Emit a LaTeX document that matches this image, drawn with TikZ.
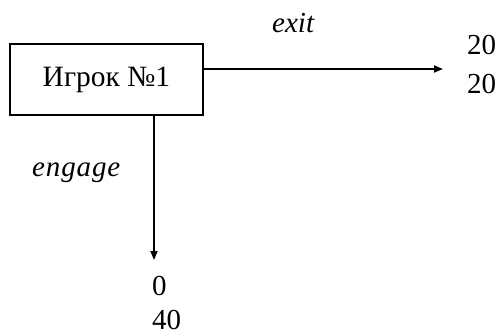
\documentclass[tikz,border=0pt]{standalone}
\usepackage{fontspec}
\setmainfont{Liberation Serif}
\usetikzlibrary{arrows.meta}
\tikzset{
  playerbox/.style={draw, line width=2pt, minimum width=193pt, minimum height=71pt, inner sep=0pt, font=\fontsize{29.5}{34}\selectfont},
  move/.style={line width=1.8pt, -{Triangle[length=9pt,width=7pt]}},
  payoff/.style={anchor=base west, inner sep=0pt, font=\fontsize{29}{34}\selectfont},
  actlabel/.style={anchor=base west, inner sep=0pt, font=\fontsize{29}{34}\selectfont\itshape},
}
\begin{document}
\begin{tikzpicture}[x=1pt,y=-1pt]
\useasboundingbox (0,0) rectangle (497,334);
\node[playerbox] (p1) at (106.5,79.5) {Игрок №1};
\coordinate (exitend) at (443,69);
\coordinate (engend) at (154,260);
\draw[move] ([yshift=10.5pt]p1.east) -- (exitend);
\draw[move] ([xshift=47.5pt]p1.south) -- (engend);
\node[actlabel] (exitlab) at (272,33) {exit};
\node[actlabel] (englab) at (32,176) {\addfontfeature{LetterSpace=3}engage};
\node[payoff] (ea) at (467,55) {20};
\node[payoff] (eb) at (467,93) {20};
\node[payoff] (ga) at (152,295) {0};
\node[payoff] (gb) at (152,329) {40};
\end{tikzpicture}
\end{document}
